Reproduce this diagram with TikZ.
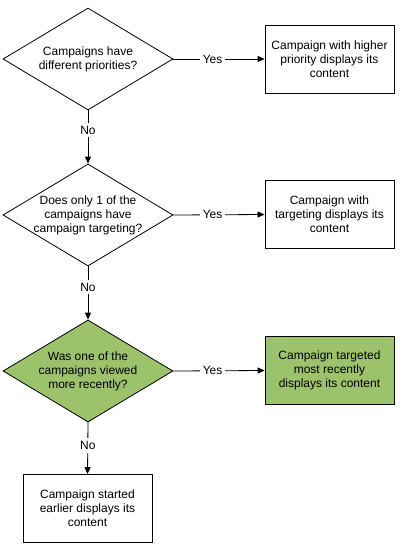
\documentclass[tikz,border=0pt]{standalone}
\usepackage{fontspec}
\setmainfont{Liberation Sans}
\usetikzlibrary{shapes.geometric,arrows.meta}
\definecolor{leafgreen}{RGB}{157,194,108}
\tikzset{
  every node/.style={font=\fontsize{12}{14}\selectfont},
  dia/.style={shape=diamond, draw=black, line width=0.8pt, inner sep=0pt,
    minimum width=170pt, minimum height=102pt, fill=white},
  txt/.style={align=center, inner sep=0pt},
  box/.style={draw=black, line width=0.8pt, fill=white, minimum width=129pt,
    minimum height=68pt, align=center, inner sep=0pt},
  conn/.style={line width=0.8pt, -{Triangle[length=7pt,width=6pt]}},
  lab/.style={fill=white, inner sep=3pt}
}
\begin{document}
\begin{tikzpicture}[x=1pt,y=-1pt]
\useasboundingbox (0,0) rectangle (410,550);
% decisions
\node[dia] (d1) at (88,59) {};
\node[txt] (d1t) at (d1) {Campaigns have\\different priorities?};
\node[dia] (d2) at (88,215) {};
\node[txt] (d2t) at (d2) {Does only 1 of the\\campaigns have\\campaign targeting?};
\node[dia, fill=leafgreen] (d3) at (88,371) {};
\node[txt] (d3t) at (d3) {Was one of the\\campaigns viewed\\more recently?};
% outcomes
\node[box] (b1) at (329.5,59) {Campaign with higher\\priority displays its\\content};
\node[box] (b2) at (329.5,214.5) {Campaign with\\targeting displays its\\content};
\node[box, fill=leafgreen] (b3) at (329.5,370.5) {Campaign targeted\\most recently\\displays its content};
\node[box] (b4) at (87.5,508.5) {Campaign started\\earlier displays its\\content};
% connectors
\draw[conn] (d1.east) -- node[lab, pos=0.43] (y1) {Yes} (b1.west);
\draw[conn] (d2.east) -- node[lab, pos=0.43] (y2) {Yes} (b2.west);
\draw[conn] (d3.east) -- node[lab, pos=0.43] (y3) {Yes} (b3.west);
\draw[conn] (d1.south) -- node[lab, pos=0.37] (n1) {No} (d2.north);
\draw[conn] (d2.south) -- node[lab, pos=0.39] (n2) {No} (d3.north);
\draw[conn] (d3.south) -- node[lab, pos=0.45] (n3) {No} (b4.north);
\end{tikzpicture}
\end{document}
